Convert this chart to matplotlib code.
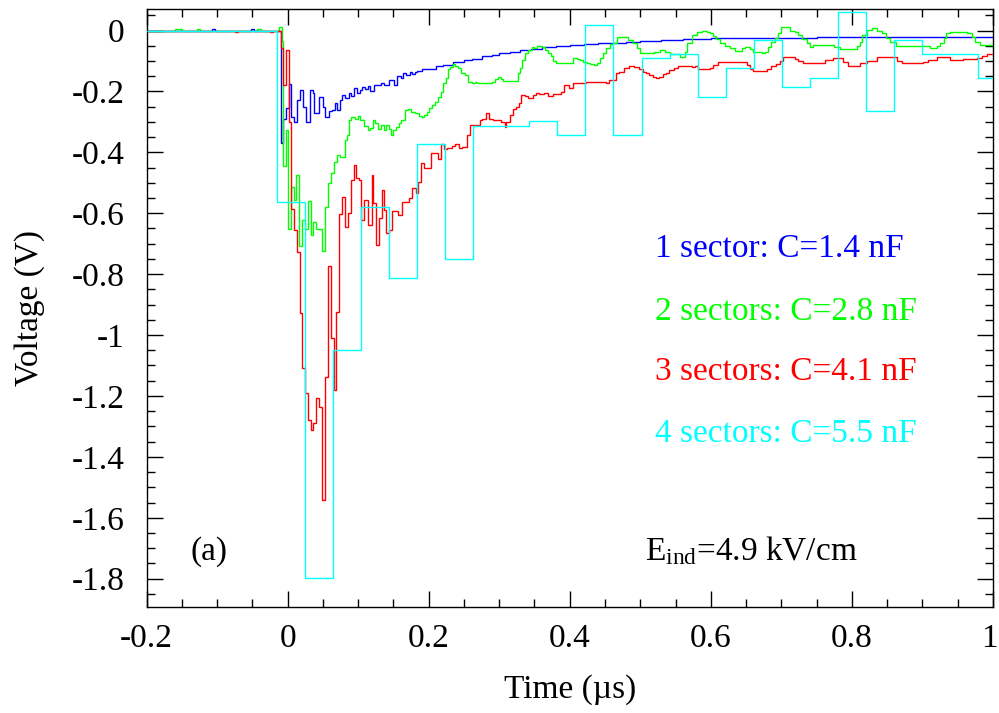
import numpy as np
import matplotlib
matplotlib.use("Agg")
import matplotlib.pyplot as plt
from matplotlib.ticker import MultipleLocator, FuncFormatter

plt.rcParams['font.family'] = ['Liberation Serif', 'DejaVu Serif']
plt.rcParams['mathtext.fontset'] = 'custom'
plt.rcParams['mathtext.rm'] = 'Liberation Serif'
plt.rcParams['mathtext.it'] = 'Liberation Serif:italic'
plt.rcParams['axes.unicode_minus'] = False

# ---------------- data (time in us, voltage in V) ----------------
# step changes: (time where a new level starts, level)
blue_steps = [
    (-0.2, 0.0), (-0.107, 0.006), (-0.103, 0.0), (-0.052, 0.006), (-0.048, 0.0),
    (-0.0099, -0.37), (-0.006, -0.29), (-0.0025, -0.255), (0.0014, -0.176),
    (0.0052, -0.284), (0.0085, -0.30), (0.013, -0.228), (0.017, -0.195),
    (0.022, -0.25), (0.026, -0.30), (0.032, -0.195), (0.036, -0.205),
    (0.038, -0.272), (0.045, -0.218), (0.050, -0.25), (0.053, -0.284),
    (0.059, -0.265), (0.063, -0.26), (0.067, -0.238), (0.070, -0.26),
    (0.074, -0.228), (0.077, -0.212), (0.082, -0.222), (0.087, -0.205),
    (0.090, -0.215), (0.094, -0.189), (0.098, -0.205), (0.102, -0.195),
    (0.106, -0.186), (0.110, -0.192), (0.114, -0.182), (0.117, -0.20),
    (0.122, -0.179), (0.132, -0.172), (0.137, -0.179), (0.144, -0.163),
    (0.151, -0.179), (0.155, -0.149), (0.161, -0.156), (0.164, -0.140),
    (0.168, -0.146), (0.173, -0.136), (0.176, -0.143), (0.180, -0.136),
    (0.184, -0.133), (0.19, -0.128), (0.20, -0.125), (0.21, -0.118),
    (0.22, -0.113), (0.235, -0.105), (0.25, -0.097), (0.262, -0.093),
    (0.275, -0.084), (0.29, -0.080), (0.30, -0.075), (0.315, -0.070),
    (0.33, -0.064), (0.345, -0.060), (0.36, -0.054), (0.38, -0.050),
    (0.40, -0.047), (0.42, -0.044), (0.44, -0.042), (0.46, -0.040),
    (0.48, -0.037), (0.50, -0.034), (0.53, -0.031), (0.56, -0.029),
    (0.60, -0.026), (0.68, -0.024), (0.75, -0.022),
]

green_steps = [
    (-0.2, 0.0), (-0.160, 0.006), (-0.150, 0.0), (-0.128, 0.006), (-0.124, 0.0),
    (-0.043, 0.006), (-0.038, 0.0), (-0.012, 0.010), (-0.008, -0.033),
    (-0.0066, -0.444), (-0.0028, -0.327), (0.0005, -0.652), (0.005, -0.514),
    (0.009, -0.557), (0.0123, -0.475), (0.016, -0.708), (0.0208, -0.622),
    (0.024, -0.652), (0.0288, -0.559), (0.0326, -0.672), (0.0359, -0.628),
    (0.0406, -0.652), (0.0492, -0.723), (0.0534, -0.579), (0.057, -0.50),
    (0.061, -0.468), (0.066, -0.431), (0.070, -0.409), (0.074, -0.414),
    (0.081, -0.36), (0.084, -0.343), (0.087, -0.294), (0.090, -0.284),
    (0.095, -0.29), (0.0998, -0.281), (0.103, -0.294), (0.109, -0.314),
    (0.114, -0.327), (0.117, -0.32), (0.121, -0.294), (0.124, -0.305),
    (0.128, -0.322), (0.133, -0.31), (0.136, -0.327), (0.140, -0.31),
    (0.144, -0.322), (0.147, -0.343), (0.150, -0.327), (0.154, -0.317),
    (0.158, -0.304), (0.161, -0.294), (0.166, -0.261), (0.171, -0.258),
    (0.175, -0.266), (0.180, -0.27), (0.186, -0.28), (0.190, -0.284),
    (0.194, -0.277), (0.198, -0.266), (0.201, -0.254), (0.205, -0.245),
    (0.209, -0.234), (0.213, -0.217), (0.217, -0.201), (0.220, -0.172),
    (0.224, -0.156), (0.227, -0.127), (0.230, -0.119), (0.234, -0.110),
    (0.238, -0.118), (0.242, -0.123), (0.246, -0.140), (0.251, -0.146),
    (0.256, -0.168), (0.261, -0.172), (0.265, -0.168), (0.269, -0.172),
    (0.290, -0.168), (0.294, -0.159), (0.298, -0.152), (0.303, -0.159),
    (0.306, -0.166), (0.327, -0.140), (0.329, -0.122), (0.333, -0.097),
    (0.336, -0.074), (0.341, -0.064), (0.346, -0.053), (0.350, -0.057),
    (0.354, -0.052), (0.360, -0.053), (0.365, -0.064), (0.369, -0.073),
    (0.373, -0.083), (0.376, -0.099), (0.380, -0.108), (0.405, -0.090),
    (0.410, -0.094), (0.414, -0.097), (0.419, -0.104), (0.424, -0.106),
    (0.428, -0.111), (0.435, -0.113), (0.438, -0.106), (0.443, -0.090),
    (0.447, -0.074), (0.452, -0.057), (0.457, -0.044), (0.461, -0.040),
    (0.467, -0.020), (0.483, -0.031), (0.490, -0.042), (0.495, -0.057),
    (0.499, -0.074), (0.520, -0.071), (0.528, -0.064), (0.535, -0.070),
    (0.542, -0.077), (0.556, -0.086), (0.563, -0.070), (0.566, -0.042),
    (0.573, -0.015), (0.580, -0.004), (0.587, 0.0), (0.594, -0.004),
    (0.599, -0.009), (0.603, -0.018), (0.608, -0.029), (0.613, -0.042),
    (0.620, -0.051), (0.627, -0.059), (0.634, -0.066), (0.644, -0.059),
    (0.648, -0.053), (0.655, -0.062), (0.660, -0.070), (0.672, -0.075),
    (0.677, -0.070), (0.681, -0.053), (0.686, -0.037), (0.691, -0.026),
    (0.695, -0.009), (0.700, 0.012), (0.707, 0.010), (0.712, 0.0),
    (0.719, -0.004), (0.724, -0.015), (0.729, -0.029), (0.736, -0.042),
    (0.740, -0.053), (0.745, -0.048), (0.774, -0.053), (0.783, -0.062),
    (0.807, -0.051), (0.811, -0.037), (0.815, -0.015), (0.821, 0.002),
    (0.828, 0.007), (0.835, 0.0), (0.842, -0.009), (0.849, -0.026),
    (0.854, -0.037), (0.863, -0.051), (0.911, -0.059), (0.920, -0.051),
    (0.925, -0.040), (0.930, -0.026), (0.934, -0.009), (0.939, -0.006),
    (0.963, -0.009), (0.970, -0.020), (0.975, -0.037), (0.982, -0.048),
]

red_steps = [
    (-0.2, 0.0), (-0.074, -0.005), (-0.070, 0.0), (-0.025, -0.006), (-0.021, 0.0),
    (-0.0099, -0.058), (-0.0066, -0.179), (-0.0028, -0.064), (0.0019, -0.30),
    (0.0052, -0.586), (0.0085, -0.655), (0.0132, -0.726), (0.017, -0.928),
    (0.0208, -1.108), (0.024, -1.191), (0.0288, -1.279), (0.0326, -1.312),
    (0.0359, -1.288), (0.0406, -1.207), (0.0444, -1.235), (0.0492, -1.542),
    (0.0534, -1.137), (0.0571, -0.773), (0.0610, -1.011), (0.0652, -1.181),
    (0.0690, -0.923), (0.0728, -0.603), (0.077, -0.546), (0.0809, -0.644),
    (0.0855, -0.60), (0.0903, -0.491), (0.0936, -0.442), (0.0974, -0.485),
    (0.101, -0.49), (0.1045, -0.622), (0.109, -0.557), (0.114, -0.639),
    (0.119, -0.475), (0.1215, -0.567), (0.126, -0.704), (0.130, -0.616),
    (0.1333, -0.524), (0.137, -0.589), (0.140, -0.666), (0.144, -0.656),
    (0.1485, -0.592), (0.156, -0.606), (0.1627, -0.562), (0.172, -0.551),
    (0.1769, -0.518), (0.1826, -0.535), (0.1848, -0.497), (0.1896, -0.436),
    (0.1929, -0.45), (0.2038, -0.403), (0.2132, -0.423), (0.218, -0.373),
    (0.2217, -0.39), (0.226, -0.385), (0.2336, -0.38), (0.238, -0.373),
    (0.2425, -0.386), (0.247, -0.381), (0.2544, -0.343), (0.2582, -0.310),
    (0.2723, -0.294), (0.276, -0.29), (0.2808, -0.272), (0.2855, -0.29),
    (0.2918, -0.294), (0.3031, -0.30), (0.3078, -0.316), (0.3102, -0.30),
    (0.3149, -0.277), (0.3196, -0.259), (0.3243, -0.252), (0.328, -0.239),
    (0.3314, -0.212), (0.336, -0.215), (0.3409, -0.223), (0.3475, -0.212),
    (0.3522, -0.204), (0.3569, -0.208), (0.3641, -0.204), (0.3688, -0.215),
    (0.3759, -0.208), (0.3877, -0.201), (0.3924, -0.179), (0.3995, -0.190),
    (0.404, -0.171), (0.4229, -0.168), (0.4512, -0.171), (0.4559, -0.163),
    (0.4654, -0.139), (0.470, -0.135), (0.4772, -0.124), (0.484, -0.117),
    (0.4914, -0.120), (0.4985, -0.127), (0.5032, -0.135), (0.508, -0.140),
    (0.5127, -0.146), (0.5174, -0.152), (0.5221, -0.157), (0.5268, -0.152),
    (0.5316, -0.143), (0.5363, -0.138), (0.541, -0.130), (0.548, -0.124),
    (0.553, -0.117), (0.5726, -0.121), (0.5773, -0.117), (0.582, -0.127),
    (0.5986, -0.122), (0.6033, -0.113), (0.6104, -0.102), (0.6411, -0.105),
    (0.6506, -0.113), (0.655, -0.125), (0.66, -0.132), (0.679, -0.127),
    (0.686, -0.117), (0.693, -0.110), (0.698, -0.099), (0.7026, -0.088),
    (0.7096, -0.086), (0.719, -0.093), (0.724, -0.099), (0.731, -0.108),
    (0.7617, -0.097), (0.7735, -0.091), (0.788, -0.102), (0.7947, -0.117),
    (0.8113, -0.106), (0.821, -0.099), (0.835, -0.086), (0.8634, -0.100),
    (0.8705, -0.106), (0.9011, -0.102), (0.9082, -0.097), (0.920, -0.086),
    (0.939, -0.097), (0.9579, -0.094), (0.9773, -0.091), (0.9844, -0.084),
    (0.9915, -0.077),
]

# 4 sectors: coarse binning (bin width ~0.0398 us starting at -0.0156 us)
cyan_first_edge = -0.0156
cyan_bin_width = 0.0398
cyan_values = [-0.563, -1.798, -1.049, -0.58, -0.813, -0.372, -0.750, -0.314,
               -0.314, -0.297, -0.343, 0.018, -0.343, -0.091, -0.077, -0.218,
               -0.123, -0.031, -0.184, -0.156, 0.061, -0.263, -0.031, -0.077,
               -0.077, -0.156]

labels = ["1 sector: C=1.4 nF", "2 sectors: C=2.8 nF",
          "3 sectors: C=4.1 nF", "4 sectors: C=5.5 nF"]
colors = ["#0000ff", "#00ff00", "#ff0000", "#00ffff"]

x_range = (-0.2, 1.0)
y_range = (-1.893, 0.0706)

# ---------------- figure ----------------
W, H = 999, 713
fig = plt.figure(figsize=(W / 100, H / 100), dpi=100)
ax_l, ax_r, ax_t, ax_b = 146.5, 993.0, 9.0, 607.0
ax = fig.add_axes([ax_l / W, 1 - ax_b / H, (ax_r - ax_l) / W, (ax_b - ax_t) / H])


def draw_steps(steps, color, z):
    t = [s[0] for s in steps]
    v = [s[1] for s in steps]
    edges = t + [x_range[1]]
    ax.stairs(v, edges, baseline=None, color=color, lw=1.0, zorder=z)


draw_steps(blue_steps, colors[0], 3)
draw_steps(green_steps, colors[1], 4)
draw_steps(red_steps, colors[2], 5)
cyan_edges = [x_range[0]] + [cyan_first_edge + k * cyan_bin_width
                             for k in range(len(cyan_values) + 1)]
ax.stairs([0.0] + cyan_values, cyan_edges, baseline=None, color=colors[3],
          lw=1.0, zorder=6)

ax.set_xlim(*x_range)
ax.set_ylim(*y_range)

ax.xaxis.set_major_locator(MultipleLocator(0.2))
ax.xaxis.set_minor_locator(MultipleLocator(0.05))
ax.yaxis.set_major_locator(MultipleLocator(0.2))
ax.yaxis.set_minor_locator(MultipleLocator(0.05))


def fmt_val(val, pos=None):
    if abs(val) < 1e-9:
        return "0"
    return "%g" % round(val, 3)


def fmt_x(val, pos=None):
    # the last label is drawn separately (nudged inside the figure)
    if abs(val - x_range[1]) < 1e-9:
        return ""
    return fmt_val(val)


ax.xaxis.set_major_formatter(FuncFormatter(fmt_x))
ax.yaxis.set_major_formatter(FuncFormatter(fmt_val))

XPAD = 12
ax.tick_params(which='both', direction='in', top=True, right=True,
               width=1.0, labelsize=24)
ax.tick_params(which='major', length=11.5)
ax.tick_params(which='minor', length=5.8)
ax.tick_params(axis='x', which='major', pad=XPAD)
ax.tick_params(axis='y', which='major', pad=16)
for sp in ax.spines.values():
    sp.set_linewidth(1.0)

ax.annotate(fmt_val(x_range[1]), xy=(x_range[1], 0),
            xycoords=('data', 'axes fraction'), xytext=(-2.5, -XPAD),
            textcoords='offset points', ha='center', va='top', fontsize=24,
            annotation_clip=False)

fig.text(570 / W, 1 - 690 / H, "Time (\u00b5s)", ha='center', va='center',
         fontsize=24)
fig.text(30 / W, 1 - 308 / H, "Voltage (V)", ha='center', va='center',
         rotation=90, fontsize=24)


def afx(px):
    return (px - ax_l) / (ax_r - ax_l)


def afy(py):
    return (ax_b - py) / (ax_b - ax_t)


baselines = [257.5, 320.5, 380.5, 442.5]
for lab, col, yb in zip(labels, colors, baselines):
    ax.text(afx(655), afy(yb), lab, color=col, fontsize=24,
            transform=ax.transAxes, ha='left', va='baseline')

ax.text(afx(190), afy(560), "(a)", fontsize=24, transform=ax.transAxes,
        ha='left', va='baseline')
ax.text(afx(645), afy(560), r"E$_{\mathrm{ind}}$=4.9 kV/cm", fontsize=24,
        transform=ax.transAxes, ha='left', va='baseline')

fig.savefig("out.png", dpi=100)
